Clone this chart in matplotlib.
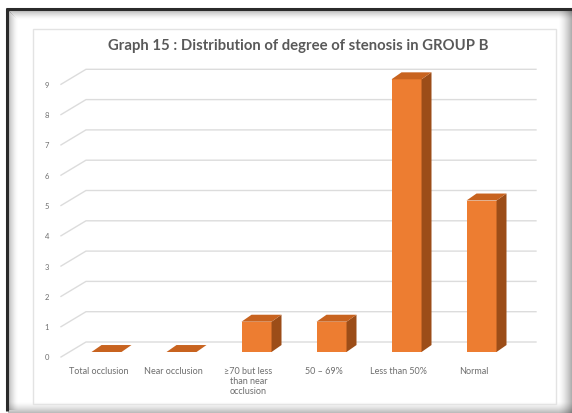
import numpy as np
import matplotlib
matplotlib.use('Agg')
import matplotlib.pyplot as plt
from matplotlib.patches import Polygon, Rectangle

plt.rcParams['font.family'] = ['Lato', 'DejaVu Sans']

# ---------------------------------------------------------------------------
# Data
# ---------------------------------------------------------------------------
title = 'Graph 15 : Distribution of degree of stenosis in GROUP B'
categories = ['Total occlusion', 'Near occlusion',
              '\u226570 but less\nthan near\nocclusion',
              '50 \u2013 69%', 'Less than 50%', 'Normal']
counts = [0, 0, 1, 1, 9, 5]
y_ticks = list(range(0, 10))

# ---------------------------------------------------------------------------
# Styling
# ---------------------------------------------------------------------------
FRONT = '#ED7D31'
SIDE = '#9C4D18'
TOP = '#C8631F'
GRID = '#DCDCDC'
TEXT = '#595959'
TICK_TEXT = '#6E6E6E'

# pseudo-3D depth of the chart box and of each column (data units)
WALL_DX, WALL_DY = 0.333, 0.495
BAR_X0, BAR_Y0 = 0.107, 0.165
BAR_W = 0.40
BAR_DX, BAR_DY = 0.133, 0.23

W, H = 572, 414
fig = plt.figure(figsize=(W / 100, H / 100), dpi=100)
fig.patch.set_facecolor('white')

# ---------------------------------------------------------------------------
# Frame with inner shadow (pixel coordinates)
# ---------------------------------------------------------------------------
bg = fig.add_axes([0, 0, 1, 1], zorder=0)
bg.set_xlim(0, W)
bg.set_ylim(H, 0)
bg.axis('off')

for k in range(10):
    a = 0.28 * (1 - k / 10) ** 1.6
    bg.add_patch(Rectangle((8 + k, 11 + k), 0.8, 400 - k, color='black', alpha=a, lw=0))
    bg.add_patch(Rectangle((8 + k, 11 + k), 570 - k, 0.8, color='black', alpha=a, lw=0))
for k in range(14):
    a = 0.35 * (k / 14) ** 1.5
    bg.add_patch(Rectangle((558 + k, 11), 1, 403, color='black', alpha=a, lw=0))
for k in range(12):
    a = 0.30 * (k / 12) ** 1.5
    bg.add_patch(Rectangle((8, 402 + k), 564, 1, color='black', alpha=a, lw=0))
bg.plot([6.5, 6.5], [9, 412], color='#2a2a2a', lw=2.2, solid_capstyle='butt')
bg.plot([5.5, 572], [10, 10], color='#2a2a2a', lw=2.2, solid_capstyle='butt')

# chart area border
bg.add_patch(Rectangle((33, 30), 523, 375, fill=False, ec='#E3E3E3', lw=1))

fig.text(298 / W, 1 - 46 / H, title, ha='center', va='center',
         fontsize=10.7, fontweight='bold', color=TEXT)

# ---------------------------------------------------------------------------
# Plot area
# ---------------------------------------------------------------------------
ax = fig.add_axes([61 / W, 1 - 358 / H, 450 / W, 303 / H], zorder=1)
ax.set_xlim(-0.5, len(categories) - 0.5)
ax.set_ylim(0, 10)
ax.axis('off')
ax.patch.set_alpha(0)

x = np.arange(len(categories))
x_left, x_right = -0.5, len(categories) - 0.5

# gridlines: diagonal on the side wall, horizontal across the back wall
for v in y_ticks:
    ax.plot([x_left, x_left + WALL_DX, x_right + WALL_DX],
            [v, v + WALL_DY, v + WALL_DY],
            color=GRID, lw=1.0, zorder=1, clip_on=False)
    ax.text(x_left - 0.19, v, str(v), ha='center', va='center',
            fontsize=5.5, color=TICK_TEXT)

# columns: front face, side face, top face
fx = x + BAR_X0 - BAR_W / 2
ax.bar(fx, counts, width=BAR_W, bottom=BAR_Y0, align='edge',
       color=FRONT, lw=0, zorder=3)
for xi, h in zip(fx, counts):
    yt = BAR_Y0 + h
    if h > 0:
        ax.add_patch(Polygon([(xi + BAR_W, BAR_Y0), (xi + BAR_W, yt),
                              (xi + BAR_W + BAR_DX, yt + BAR_DY),
                              (xi + BAR_W + BAR_DX, BAR_Y0 + BAR_DY)],
                             closed=True, fc=SIDE, ec='none', zorder=3))
    ax.add_patch(Polygon([(xi, yt), (xi + BAR_W, yt),
                          (xi + BAR_W + BAR_DX, yt + BAR_DY),
                          (xi + BAR_DX, yt + BAR_DY)],
                         closed=True, fc=TOP, ec='none', zorder=3))

for xi, cat in zip(x, categories):
    ax.text(xi, -0.3, cat, ha='center', va='top', fontsize=6.5,
            color=TICK_TEXT, linespacing=1.15)

fig.savefig('out.png', dpi=100, facecolor='white')
